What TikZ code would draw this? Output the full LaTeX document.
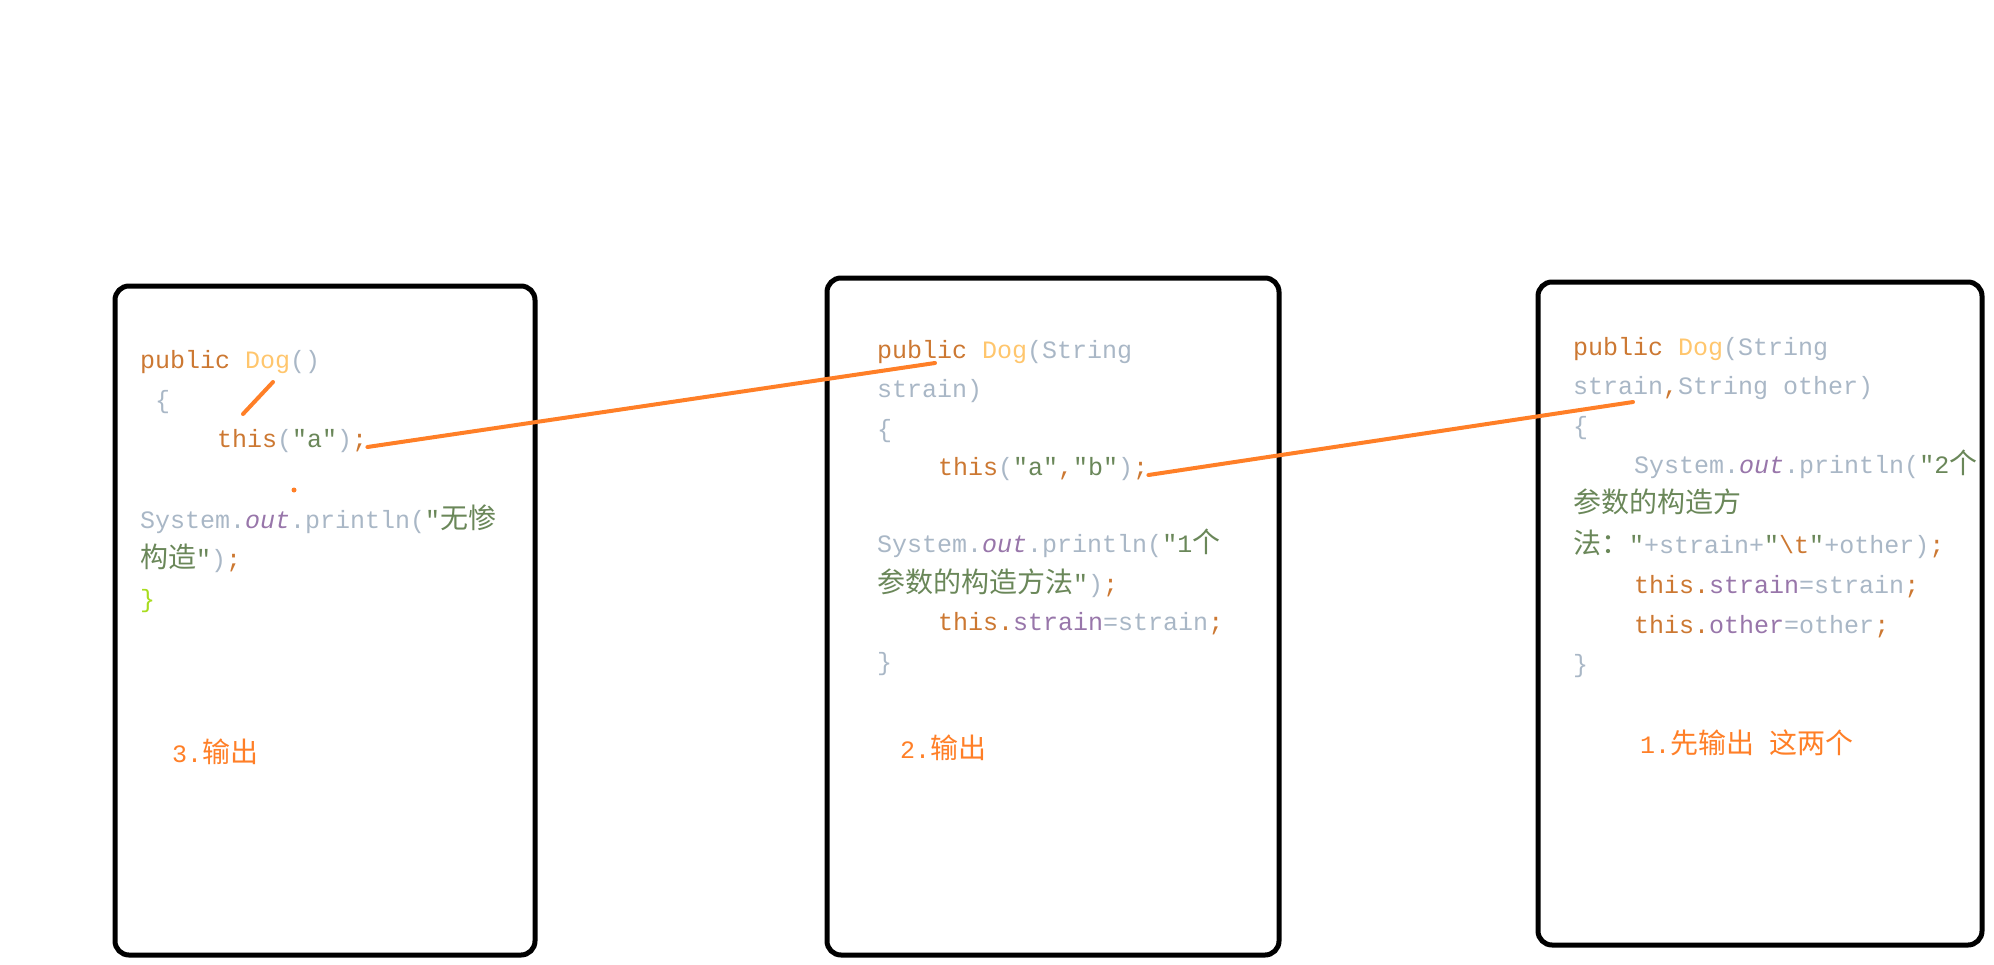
\documentclass[tikz,border=0pt]{standalone}
\usepackage{fontspec}
\usepackage{xcolor}
\usepackage{tikz}
\newfontfamily\codefont{Liberation Mono}
\newfontfamily\cjkfont{Noto Sans CJK SC}
\definecolor{kwcol}{HTML}{CC7832}
\definecolor{fncol}{HTML}{FFC66D}
\definecolor{plaincol}{HTML}{A9B7C6}
\definecolor{fdcol}{HTML}{9876AA}
\definecolor{strcol}{HTML}{6A8759}
\definecolor{bracecol}{HTML}{A8DC1E}
\definecolor{markcol}{HTML}{FF7F27}
\newcommand{\zh}[1]{{\cjkfont\fontsize{28pt}{30pt}\selectfont #1}}
\newcommand{\kw}[1]{\textcolor{kwcol}{#1}}
\newcommand{\fn}[1]{\textcolor{fncol}{#1}}
\newcommand{\fd}[1]{\textcolor{fdcol}{#1}}
\newcommand{\str}[1]{\textcolor{strcol}{#1}}

\begin{document}
\begin{tikzpicture}[
  x=1pt,y=-1pt,
  panel/.style={draw,line width=5pt,rounded corners=14pt,inner sep=0pt},
  code/.style={anchor=base west,inner sep=0pt,text=plaincol,font=\codefont\fontsize{25pt}{30pt}\selectfont},
  note/.style={anchor=base west,inner sep=0pt,text=markcol,font=\codefont\fontsize{25pt}{30pt}\selectfont},
  pen/.style={draw=markcol,line width=4pt,line cap=round}
]
\useasboundingbox (0,0) rectangle (1994,964);

\node[panel,minimum width=420pt,minimum height=669pt] (ctor0) at (325,620.5) {};
\node[panel,minimum width=452pt,minimum height=677pt] (ctor1) at (1053,616.5) {};
\node[panel,minimum width=444pt,minimum height=663pt] (ctor2) at (1760,613.5) {};

\node[code] (c0l1) at (140,368) {\kw{public} \fn{Dog}()};
\node[code] (c0l2) at (155,408) {\{};
\node[code] (c0l3) at (217,447) {\kw{this}(\str{"a"})\kw{;}};
\node[code] (c0l4) at (140,528) {System.\fd{\itshape out}.println(\str{"\zh{无惨}}};
\node[code] (c0l5) at (140,567) {\str{\zh{构造}"})\kw{;}};
\node[code,text=bracecol] (c0l6) at (140,607) {\}};
\node[note] (out3) at (172,762) {3.\zh{输出}};

\node[code] (c1l1) at (877,358) {\kw{public} \fn{Dog}(String};
\node[code] (c1l2) at (877,397) {strain)};
\node[code] (c1l3) at (877,437) {\{};
\node[code] (c1l4) at (938,475) {\kw{this}(\str{"a"}\kw{,}\str{"b"})\kw{;}};
\node[code] (c1l5) at (877,552) {System.\fd{\itshape out}.println(\str{"1\zh{个}}};
\node[code] (c1l6) at (877,592) {\str{\zh{参数的构造方法}"})\kw{;}};
\node[code] (c1l7) at (938,630) {\kw{this.}\fd{strain}=strain\kw{;}};
\node[code] (c1l8) at (877,670) {\}};
\node[note] (out2) at (900,758) {2.\zh{输出}};

\node[code] (c2l1) at (1573,355) {\kw{public} \fn{Dog}(String};
\node[code] (c2l2) at (1573,394) {strain\kw{,}String other)};
\node[code] (c2l3) at (1573,434) {\{};
\node[code] (c2l4) at (1634,473) {System.\fd{\itshape out}.println(\str{"2\zh{个}}};
\node[code] (c2l5) at (1573,512) {\str{\zh{参数的构造方}}};
\node[code] (c2l6) at (1573,553) {\str{\zh{法：}"}+strain+\str{"}\kw{\textbackslash t}\str{"}+other)\kw{;}};
\node[code] (c2l7) at (1634,593) {\kw{this.}\fd{strain}=strain\kw{;}};
\node[code] (c2l8) at (1634,633) {\kw{this.}\fd{other}=other\kw{;}};
\node[code] (c2l9) at (1573,672) {\}};
\node[note] (out1) at (1640,753) {1.\zh{先输出} \zh{这两个}};

\coordinate (hit1) at (935,363);
\coordinate (hit2) at (1633,402);
\coordinate (tickA) at (273,382);
\coordinate (tickB) at (243,414);
\coordinate (dot0) at (294,490);

\draw[pen] (c0l3.base east) -- (hit1);
\draw[pen] (c1l4.base east) -- (hit2);
\draw[pen] (tickA) -- (tickB);
\fill[markcol] (dot0) circle (2.5pt);
\end{tikzpicture}
\end{document}
